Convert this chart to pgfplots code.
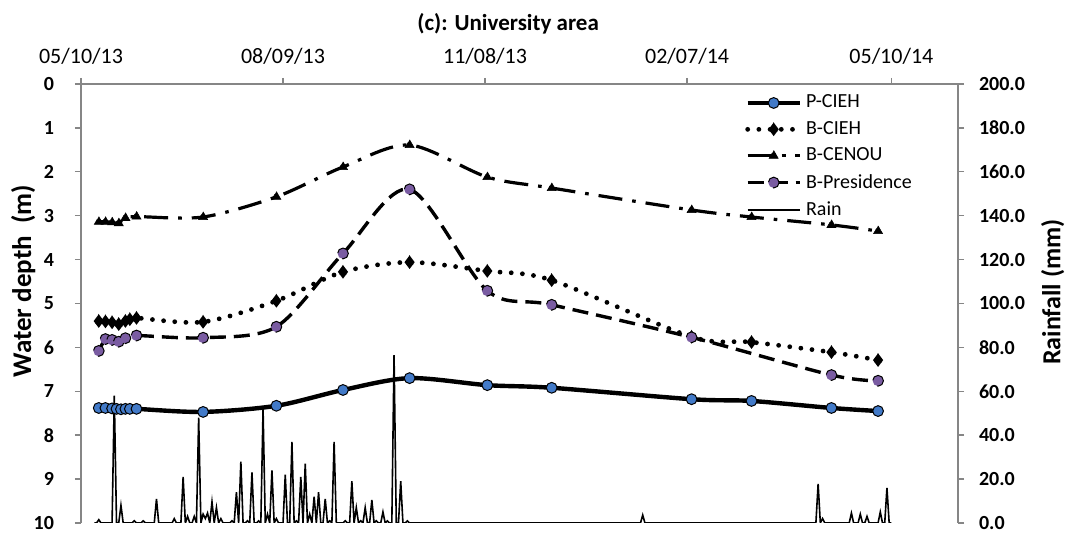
\documentclass[border=0pt]{standalone}
\usepackage{pgfplots}
\pgfplotsset{compat=1.18}
\usepackage{fontspec}
\setmainfont{Carlito}
\definecolor{pblue}{RGB}{66,122,200}
\definecolor{ppurple}{RGB}{122,92,162}
\definecolor{axgray}{RGB}{134,134,134}
\begin{document}
\begin{tikzpicture}
\useasboundingbox (-40.5pt,-5.5pt) rectangle (501pt,261.5pt);
% rain axis
\begin{axis}[
  at={(0,0)}, anchor=south west,
  scale only axis, width=438.5pt, height=219.5pt,
  xmin=0, xmax=395, ymin=0, ymax=200,
  axis x line=none, axis y line*=right,
  axis line style={draw=axgray, line width=0.7pt},
  ytick={0,20,...,200},
  tick align=outside, major tick length=3pt,
  every tick/.style={draw=axgray, line width=0.7pt},
  /pgf/number format/assume math mode=true,
  yticklabel={\pgfmathprintnumber[fixed,fixed zerofill,precision=1]{\tick}},
  yticklabel style={font=\bfseries\fontsize{10}{12}\selectfont, xshift=4pt},
  ylabel={Rainfall (mm)},
  every axis y label/.style={at={(axis description cs:1.108,0.526)}, rotate=90, anchor=center, font=\bfseries\fontsize{13}{15}\selectfont},
]
\addplot[black, line width=0.8pt] coordinates {
(6,0)(7,0)(8,1.5)(9,0)(14,0)(15,58)(16,0)(17,0)(18,8)(19,0)(23,0)(24,1)(25,0)(27,0)(28,1)(29,0)(33,0)(34,11)(35,0)(41,0)(42,2)(43,0)(45,0)(46,21)(47,0)(48,3)(49,0)(50,0)(51,3)(52,0)(53,48)(54,0)(55,4)(56,2)(57,4.5)(58,0)(59,9.6)(60,0)(61,7)(62,0)(63,2)(64,0)(67,0)(68,1)(69,0)(70,14)(71,0)(72,28)(73,0)(74,0)(75,1)(76,0)(77,23)(78,0)(79,0)(80,1)(81,0)(82,52)(83,0)(84,4)(85,0)(86,24)(87,0)(88,2)(89,0)(91,0)(92,22)(93,0)(94,0)(95,37)(96,0)(97,1)(98,0)(99,21)(100,0)(101,27)(102,0)(103,4)(104,0)(105,12)(106,0)(107,14)(108,0)(109,0)(110,11)(111,0)(112,1)(113,0)(114,37)(115,0)(118,0)(119,1)(120,0)(121,0)(122,19)(123,0)(124,7)(125,0)(126,1)(127,0)(128,7)(129,0)(130,0)(131,10.5)(132,0)(133,1)(134,0)(135,0)(136,5)(137,0)(138,1)(139,0)(140,0)(141,76.5)(142,0)(143,0)(144,19)(145,0)(146,0)(147,1)(148,0)(252,0)(253,3.6)(254,0)(331,0)(332,17.8)(333,0)(334,2)(335,0)(346,0)(347,4.5)(348,0)(350,0)(351,4)(352,0)(353,0)(354,3)(355,0)(359,0)(360,5)(361,0)(362,0)(363,16)(364,0)(365,0)
};
\end{axis}
% depth axis
\begin{axis}[
  at={(0,0)}, anchor=south west,
  scale only axis, width=438.5pt, height=219.5pt,
  xmin=0, xmax=395, ymin=0, ymax=10, y dir=reverse,
  axis x line*=top, axis y line*=left,
  axis line style={draw=axgray, line width=0.7pt},
  xtick={0,91,182,273,365},
  xticklabels={05/10/13,08/09/13,11/08/13,02/07/14,05/10/14},
  ytick={0,1,...,10},
  tick align=outside, major tick length=3pt,
  every tick/.style={draw=axgray, line width=0.7pt},
  /pgf/number format/assume math mode=true,
  xticklabel style={font=\fontsize{11}{13}\selectfont, yshift=3pt},
  yticklabel style={font=\bfseries\fontsize{10}{12}\selectfont, xshift=-7pt},
  ylabel={Water depth~ (m)},
  every axis y label/.style={at={(axis description cs:-0.066,0.551)}, rotate=90, anchor=center, font=\bfseries\fontsize{13.5}{15}\selectfont},
  title={(c): University area},
  every axis title/.style={at={(axis description cs:0.487,1.138)}, anchor=center, font=\bfseries\fontsize{11.5}{13}\selectfont},
  legend style={at={(axis description cs:0.757,0.985)}, anchor=north west, draw=none, fill=none, font=\fontsize{10}{12}\selectfont, row sep=1.2pt, inner sep=0pt},
  legend cell align=left,
  legend image code/.code={\draw[mark repeat=2,mark phase=2] plot coordinates {(0pt,0pt) (13pt,0pt) (26pt,0pt)};},
  every mark/.append style={solid},
]
\addplot[black, line width=2.2pt, smooth, mark=*, mark size=2.7pt, mark options={fill=pblue, draw=black, line width=0.5pt}] coordinates {
(8,7.38)(11,7.38)(14,7.39)(16,7.40)(18,7.41)(20,7.40)(22,7.40)(25,7.40)(55,7.47)(88,7.33)(118,6.97)(148,6.70)(183,6.86)(212,6.92)(275,7.18)(302,7.22)(338,7.38)(359,7.45)
};
\addlegendentry{P-CIEH}
\addplot[black, line width=2.4pt, line cap=round, dash pattern=on 0pt off 5.6pt, smooth, mark=diamond*, mark size=3.4pt, mark options={fill=black, draw=black, line width=0.3pt}] coordinates {
(8,5.40)(11,5.41)(14,5.43)(17,5.47)(20,5.40)(22,5.36)(25,5.33)(55,5.42)(88,4.94)(118,4.28)(148,4.06)(183,4.26)(212,4.47)(275,5.76)(302,5.88)(338,6.11)(359,6.29)
};
\addlegendentry{B-CIEH}
\addplot[black, line width=1.6pt, dash pattern=on 12pt off 5pt on 1.8pt off 5pt, smooth, mark=triangle*, mark size=2.6pt, mark options={fill=black, draw=black, line width=0.3pt}] coordinates {
(8,3.14)(11,3.14)(14,3.15)(17,3.17)(20,3.05)(25,3.02)(55,3.03)(88,2.57)(118,1.89)(148,1.39)(183,2.12)(212,2.37)(275,2.87)(302,3.03)(338,3.21)(359,3.35)
};
\addlegendentry{B-CENOU}
\addplot[black, line width=1.7pt, dash pattern=on 8pt off 4pt, smooth, mark=*, mark size=2.7pt, mark options={fill=ppurple, draw=black, line width=0.5pt}] coordinates {
(8,6.08)(11,5.81)(14,5.83)(17,5.87)(20,5.79)(25,5.73)(55,5.78)(88,5.53)(118,3.86)(148,2.40)(183,4.71)(212,5.03)(275,5.77)(338,6.63)(359,6.76)
};
\addlegendentry{B-Presidence}
\addlegendimage{black, line width=0.8pt}
\addlegendentry{Rain}
\end{axis}
\end{tikzpicture}
\end{document}
